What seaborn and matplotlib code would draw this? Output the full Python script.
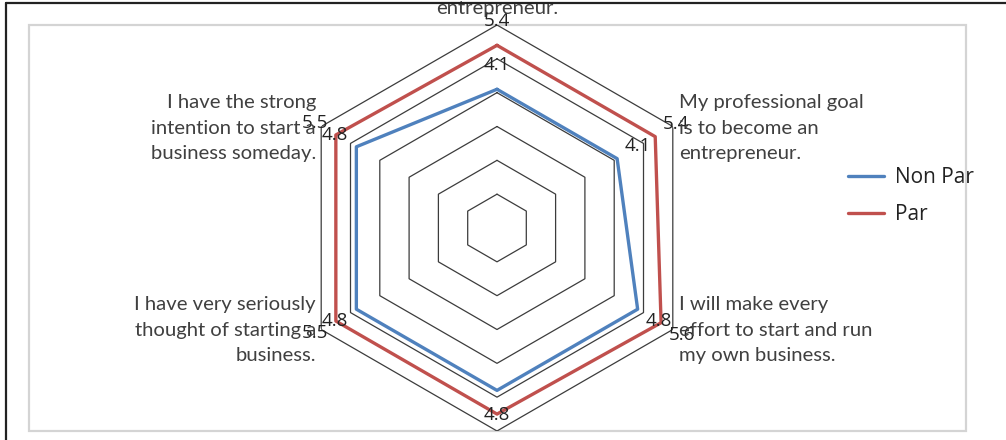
import numpy as np
import pandas as pd
import matplotlib
matplotlib.use("Agg")
import matplotlib.pyplot as plt
from matplotlib.lines import Line2D
from matplotlib.patches import Rectangle
import seaborn as sns

# Survey items, clockwise from the top spoke
categories = [
    "I am ready to do anything to be an\nentrepreneur.",
    "My professional goal\nis to become an\nentrepreneur.",
    "I will make every\neffort to start and run\nmy own business.",
    "I am determined to create a\nbusiness in the future.",
    "I have very seriously\nthought of starting a\nbusiness.",
    "I have the strong\nintention to start a\nbusiness someday.",
]
series_names = ["Non Par", "Par"]
non_par = [4.1, 4.1, 4.8, 4.8, 4.8, 4.8]
par = [5.4, 5.4, 5.6, 5.5, 5.5, 5.5]
r_max = 6
ring_levels = [1, 2, 3, 4, 5, 6]

colors = {"Non Par": "#4F81BD", "Par": "#C0504D"}
text_color = "#404040"

sns.set_theme(style="white")
plt.rcParams["font.family"] = ["Open Sans", "DejaVu Sans"]

W, H = 1006, 440
fig = plt.figure(figsize=(W / 100, H / 100), dpi=100)
fig.patch.set_facecolor("white")


def fx(px):
    return px / W


def fy(py):
    return 1 - py / H


# chart frame and plot-area box
fig.add_artist(Rectangle((fx(29), fy(431)), fx(966) - fx(29), fy(25) - fy(431),
                         transform=fig.transFigure, fill=False,
                         edgecolor="#d4d4d4", linewidth=1.6, zorder=0))
fig.add_artist(Line2D([fx(6), 1.0], [fy(3), fy(3)], transform=fig.transFigure,
                      color="#222222", linewidth=1.6, zorder=10))
fig.add_artist(Line2D([fx(6), fx(6)], [fy(3), 0.0], transform=fig.transFigure,
                      color="#222222", linewidth=1.6, zorder=10))

# polar axes centred on the radar
cx, cy, rad = 497, 228, 203
ax = fig.add_axes([fx(cx - rad), fy(cy + rad), 2 * rad / W, 2 * rad / H],
                  projection="polar")
ax.set_theta_zero_location("N")
ax.set_theta_direction(-1)
ax.set_facecolor("none")
ax.grid(False)
ax.spines["polar"].set_visible(False)
ax.set_xticks([])
ax.set_yticks([])
ax.set_ylim(0, r_max)

n = len(categories)
angles = np.linspace(0, 2 * np.pi, n, endpoint=False)
closed_angles = np.append(angles, 2 * np.pi)

# hexagonal gridlines
for lvl in ring_levels:
    ax.plot(closed_angles, [lvl] * (n + 1), color="#3c3c3c", linewidth=0.9,
            zorder=1)

# series
rows = []
for name, vals in zip(series_names, [non_par, par]):
    closed_vals = list(vals) + [vals[0]]
    for i, (t, v) in enumerate(zip(closed_angles, closed_vals)):
        rows.append({"theta": t, "value": v, "series": name, "order": i})
df = pd.DataFrame(rows)
sns.lineplot(data=df, x="theta", y="value", hue="series", sort=False,
             estimator=None, palette=colors, linewidth=2.4, ax=ax, zorder=3,
             legend=True)
ax.set_xlabel("")
ax.set_ylabel("")
ax.set_xticks([])
ax.set_yticks([])
ax.set_ylim(0, r_max)

# value labels, set just outside each point
offset = 0.72
for name, vals in zip(series_names, [non_par, par]):
    for i, (t, v) in enumerate(zip(angles, vals)):
        if name == "Par" and i == 3:
            continue  # falls below the chart area
        ax.text(t, v + offset, f"{v:.1f}", ha="center", va="center",
                fontsize=13.5, color="#222222", zorder=5, clip_on=False)

# category labels
cat_font = dict(family=["Lato", "DejaVu Sans"], fontsize=14.6, color=text_color,
                linespacing=1.62)
fig.text(fx(497), fy(14), categories[0], ha="center", va="baseline",
         multialignment="center", **cat_font)
fig.text(fx(679), fy(128), categories[1], ha="left", va="center",
         multialignment="left", **cat_font)
fig.text(fx(679), fy(330), categories[2], ha="left", va="center",
         multialignment="left", **cat_font)
fig.text(fx(316), fy(330), categories[4], ha="right", va="center",
         multialignment="right", **cat_font)
fig.text(fx(316), fy(128), categories[5], ha="right", va="center",
         multialignment="right", **cat_font)

# legend
handles, labels = ax.get_legend_handles_labels()
ax.get_legend().remove()
for h in handles:
    h.set_linewidth(2.4)
fig.legend(handles, labels, loc="center left",
           bbox_to_anchor=(fx(848), fy(196)), bbox_transform=fig.transFigure,
           frameon=False, fontsize=15, handlelength=1.75, handletextpad=0.5,
           labelspacing=0.75, borderpad=0, borderaxespad=0,
           labelcolor="#222222")

fig.savefig("out.png", dpi=100)
